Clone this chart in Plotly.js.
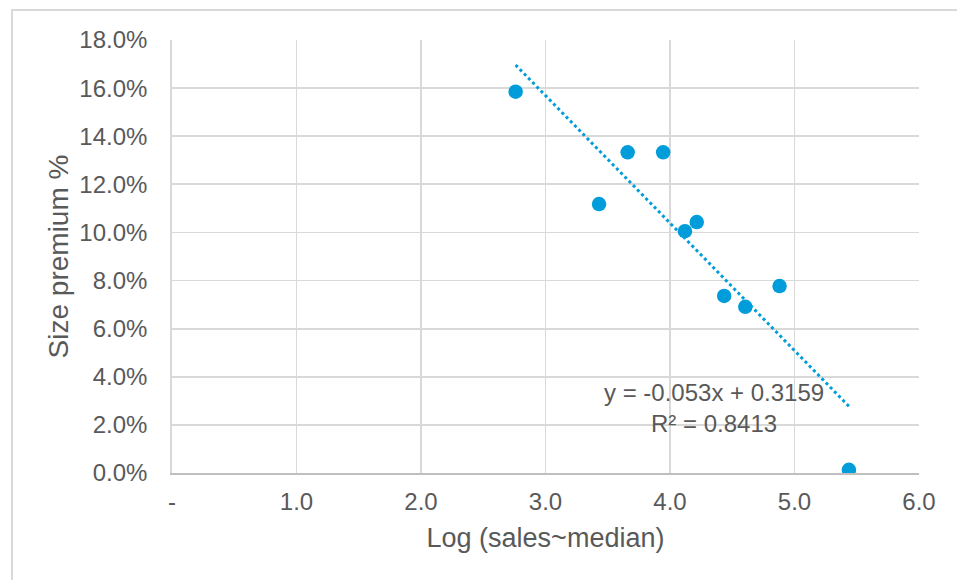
<!DOCTYPE html>
<html>
<head>
<meta charset="utf-8">
<script src="https://cdn.plot.ly/plotly-3.0.1.min.js"></script>
<style>
  html, body { margin: 0; padding: 0; background: #ffffff; }
  #wrap { position: relative; width: 957px; height: 580px; overflow: hidden; }
  #chart { width: 957px; height: 580px; }
  #frame { position: absolute; left: 11px; top: 9px; width: 1000px; height: 700px;
           border-left: 2px solid #d9d9d9; border-top: 2px solid #d9d9d9; pointer-events: none; }
</style>
</head>
<body>
<div id="wrap">
  <div id="chart"></div>
  <div id="frame"></div>
</div>
<script>
// Data
const logSales = [2.76, 3.43, 3.66, 3.945, 4.12, 4.215, 4.435, 4.605, 4.88, 5.437];
const sizePremium = [0.1585, 0.1118, 0.1333, 0.1333, 0.1005, 0.1043, 0.0736, 0.0691, 0.0777, 0.0013];

// Linear trendline as displayed in the chart
const trendSlope = -0.053;
const trendIntercept = 0.3159;
const trendX = [2.76, 5.437];
const trendY = trendX.map(x => trendSlope * x + trendIntercept);

const xTickVals = [0, 1, 2, 3, 4, 5, 6];
const xTickText = ['-', '1.0', '2.0', '3.0', '4.0', '5.0', '6.0'];

const equationText = 'y = -0.053x + 0.3159<br>R² = 0.8413';

const blue = '#009dda';
const textColor = '#595959';
const gridColor = '#d9d9d9';
const fontFamily = 'Liberation Sans, Arial, sans-serif';

const traces = [
  {
    x: trendX, y: trendY, type: 'scatter', mode: 'lines',
    line: { color: blue, width: 3, dash: '3px,3px' },
    hoverinfo: 'skip', showlegend: false
  },
  {
    x: logSales, y: sizePremium, type: 'scatter', mode: 'markers',
    marker: { color: blue, size: 14.5, line: { width: 0 } },
    showlegend: false
  }
];

const layout = {
  width: 957, height: 580,
  margin: { l: 172, r: 38, t: 40, b: 107 },
  paper_bgcolor: '#ffffff', plot_bgcolor: '#ffffff',
  font: { family: fontFamily, color: textColor, size: 24 },
  xaxis: {
    range: [0, 6], tickvals: xTickVals, ticktext: xTickText,
    showgrid: true, gridcolor: gridColor, gridwidth: 1.8,
    zeroline: false, showline: true, linecolor: '#bfbfbf', linewidth: 1.8,
    ticks: '', ticklabelstandoff: 6,
    tickfont: { size: 24, color: textColor, family: fontFamily },
    title: { text: 'Log (sales~median)', font: { size: 27, color: textColor, family: fontFamily }, standoff: 14 }
  },
  yaxis: {
    range: [0, 0.18], dtick: 0.02, tick0: 0, tickformat: '.1%',
    showgrid: true, gridcolor: gridColor, gridwidth: 1.8,
    zeroline: false, showline: true, linecolor: gridColor, linewidth: 1.8,
    ticks: '', ticklabelstandoff: 18,
    tickfont: { size: 24, color: textColor, family: fontFamily },
    title: { text: 'Size premium %', font: { size: 28, color: textColor, family: fontFamily }, standoff: 2 }
  },
  annotations: [
    {
      x: 4.355, y: 0.0272, xref: 'x', yref: 'y',
      text: equationText, showarrow: false,
      xanchor: 'center', yanchor: 'middle', align: 'center',
      font: { size: 24, color: textColor, family: fontFamily }
    }
  ]
};

Plotly.newPlot('chart', traces, layout, { displayModeBar: false, staticPlot: true });
</script>
</body>
</html>
